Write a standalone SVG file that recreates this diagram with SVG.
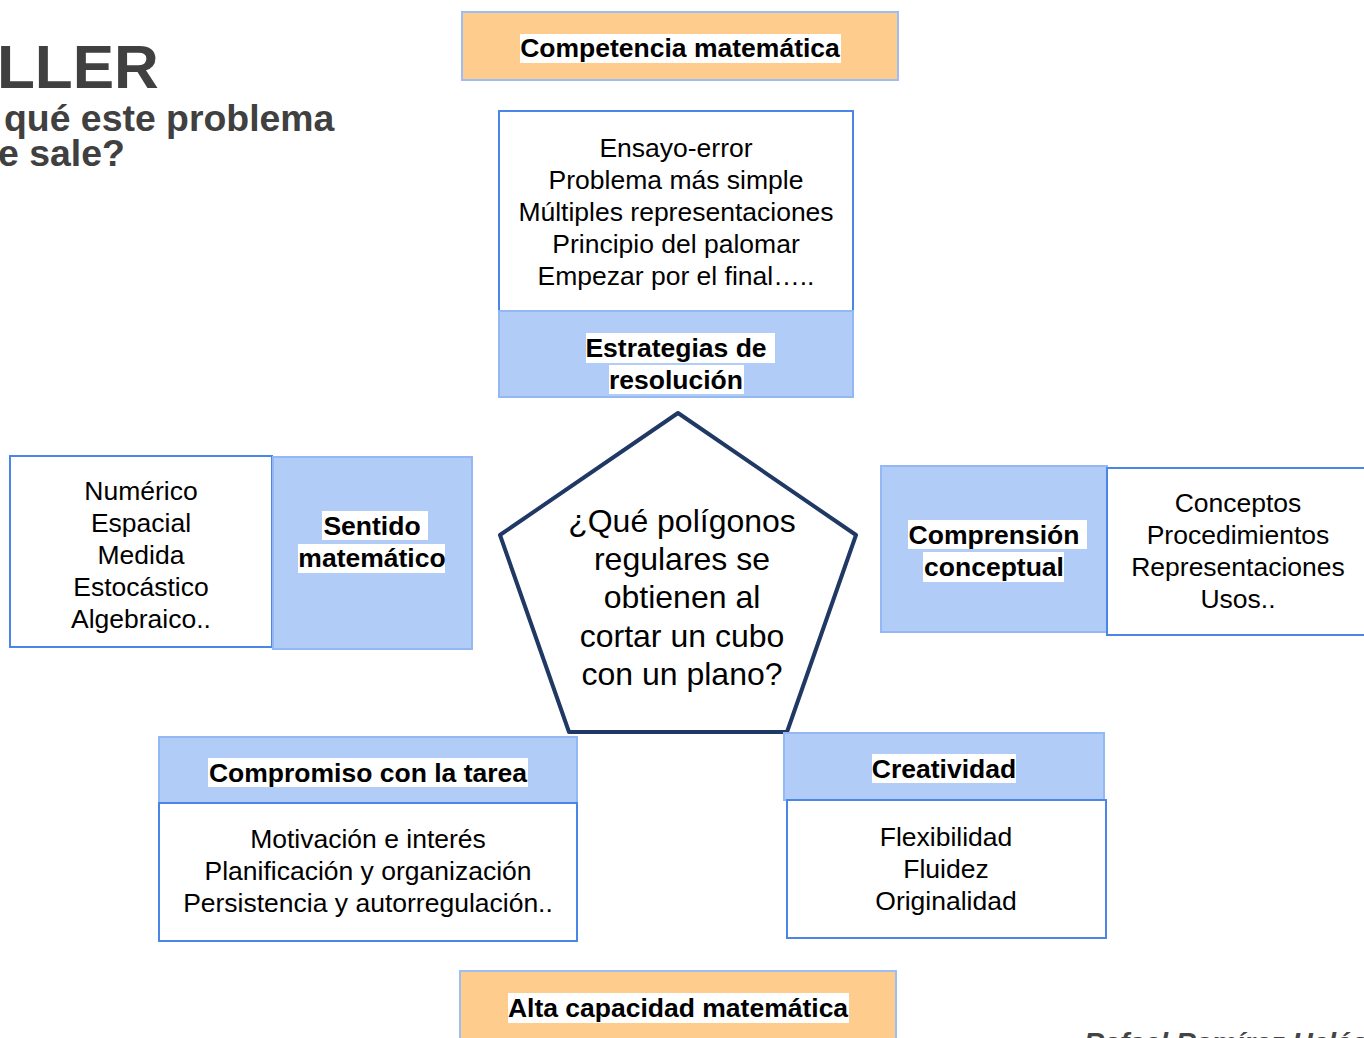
<svg xmlns="http://www.w3.org/2000/svg" width="1364" height="1038" viewBox="0 0 1364 1038">
<style>
text{font-family:"Liberation Sans",Arial,sans-serif;}
.t{font-size:26.5px;fill:#000;text-anchor:middle;}
.b{font-size:26.5px;font-weight:bold;fill:#000;text-anchor:middle;}
.q{font-size:32px;fill:#000;text-anchor:middle;}
.hl{fill:#fff;}
.or{fill:#FECC8C;stroke:#9DBDF5;stroke-width:2;}
.bl{fill:#B0CCF7;stroke:#94B8F3;stroke-width:2;}
.wh{fill:#fff;stroke:#4A86E8;stroke-width:2;}
.ti{font-weight:bold;fill:#404040;}
</style>
<rect width="1364" height="1038" fill="#fff"/>
<g id="title">
<text class="ti" x="-3" y="88" font-size="62">LLER</text>
<text class="ti" x="4" y="131" font-size="37.4">qué este problema</text>
<text class="ti" x="-2" y="166" font-size="37.4">e sale?</text>
</g>
<g id="author">
<text x="1084" y="1052" font-size="28" font-weight="bold" font-style="italic" fill="#444">Rafael Ramírez Uclés</text>
</g>
<g id="connectors"></g>
<g id="competencia">
<rect class="or" x="462" y="12" width="436" height="68"/>
<rect class="hl" x="520" y="34" width="321" height="29"/>
<text class="b" x="680" y="57">Competencia matemática</text>
</g>
<g id="estrategias">
<rect class="wh" x="499" y="111" width="354" height="200"/>
<text class="t" x="676" y="157">Ensayo-error</text>
<text class="t" x="676" y="189">Problema más simple</text>
<text class="t" x="676" y="221">Múltiples representaciones</text>
<text class="t" x="676" y="253">Principio del palomar</text>
<text class="t" x="676" y="285">Empezar por el final…..</text>
<rect class="bl" x="499" y="311" width="354" height="86"/>
<rect class="hl" x="586" y="333" width="189" height="30"/>
<rect class="hl" x="609" y="365" width="135" height="29"/>
<text class="b" x="676" y="357">Estrategias de </text>
<text class="b" x="676" y="389">resolución</text>
</g>
<g id="pregunta">
<polygon points="678,413 856,535 787,732 569,732 500,535" fill="#fff" stroke="#1F3864" stroke-width="4" stroke-linejoin="round"/>
<text class="q" x="682" y="532">¿Qué polígonos</text>
<text class="q" x="682" y="570">regulares se</text>
<text class="q" x="682" y="608">obtienen al</text>
<text class="q" x="682" y="647">cortar un cubo</text>
<text class="q" x="682" y="685">con un plano?</text>
</g>
<g id="sentido">
<rect class="wh" x="10" y="456" width="262" height="191"/>
<text class="t" x="141" y="500">Numérico</text>
<text class="t" x="141" y="532">Espacial</text>
<text class="t" x="141" y="564">Medida</text>
<text class="t" x="141" y="596">Estocástico</text>
<text class="t" x="141" y="628">Algebraico..</text>
<rect class="bl" x="273" y="457" width="199" height="192"/>
<rect class="hl" x="322" y="511" width="106" height="29"/>
<rect class="hl" x="298" y="544" width="147" height="29"/>
<text class="b" x="372" y="535">Sentido </text>
<text class="b" x="372" y="567">matemático</text>
</g>
<g id="comprension">
<rect class="bl" x="881" y="466" width="226" height="166"/>
<rect class="hl" x="908" y="520" width="179" height="29"/>
<rect class="hl" x="923" y="552" width="141" height="30"/>
<text class="b" x="994" y="544">Comprensión </text>
<text class="b" x="994" y="576">conceptual</text>
<rect class="wh" x="1107" y="468" width="270" height="167"/>
<text class="t" x="1238" y="512">Conceptos</text>
<text class="t" x="1238" y="544">Procedimientos</text>
<text class="t" x="1238" y="576">Representaciones</text>
<text class="t" x="1238" y="608">Usos..</text>
</g>
<g id="compromiso">
<rect class="bl" x="159" y="737" width="418" height="66"/>
<rect class="hl" x="208" y="758" width="320" height="29"/>
<text class="b" x="368" y="782">Compromiso con la tarea</text>
<rect class="wh" x="159" y="803" width="418" height="138"/>
<text class="t" x="368" y="848">Motivación e interés</text>
<text class="t" x="368" y="880">Planificación y organización</text>
<text class="t" x="368" y="912">Persistencia y autorregulación..</text>
</g>
<g id="creatividad">
<rect class="bl" x="784" y="733" width="320" height="67"/>
<rect class="hl" x="872" y="754" width="144" height="29"/>
<text class="b" x="944" y="778">Creatividad</text>
<rect class="wh" x="787" y="800" width="319" height="138"/>
<text class="t" x="946" y="846">Flexibilidad</text>
<text class="t" x="946" y="878">Fluidez</text>
<text class="t" x="946" y="910">Originalidad</text>
</g>
<g id="alta">
<rect class="or" x="460" y="971" width="436" height="80"/>
<rect class="hl" x="508" y="993" width="341" height="30"/>
<text class="b" x="678" y="1017">Alta capacidad matemática</text>
</g>
</svg>
